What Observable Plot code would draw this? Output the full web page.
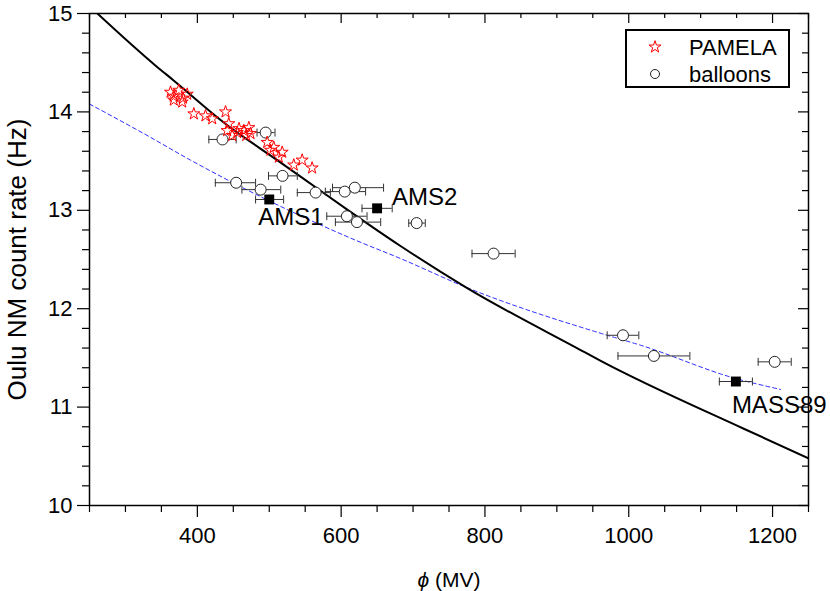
<!DOCTYPE html>
<html><head><meta charset="utf-8">
<script src="https://cdn.jsdelivr.net/npm/d3@7"></script>
<script src="https://cdn.jsdelivr.net/npm/@observablehq/plot@0.6"></script>
<style>
body{margin:0;background:#fff;font-family:"Liberation Sans",Arial,sans-serif;}
#wrap{position:relative;width:830px;height:591px;}
#legend{position:absolute;left:625px;top:29px;}
</style></head><body><div id="wrap"></div>
<script>
// PAMELA points
const pamelaPhi  = [362.7,374.2,385.9,367.2,378.9,367,380,395.1,411.3,420.7,439.2,443.7,441.5,455.4,464.6,471.6,473.9,448.5,458,468,497.1,506.3,501.7,518,513.3,534.1,545.8,559.6];
const pamelaRate = [14.20,14.22,14.18,14.12,14.10,14.16,14.14,13.98,13.96,13.93,14.00,13.88,13.81,13.79,13.81,13.84,13.78,13.76,13.83,13.76,13.69,13.64,13.61,13.59,13.54,13.46,13.51,13.43];
// balloon points with phi error bars
const balloonPhi  = [495,435,454,488,518.5,564.5,605,619,608,622,705,812,992,1035,1203];
const balloonRate = [13.79,13.72,13.28,13.21,13.35,13.18,13.19,13.23,12.94,12.88,12.87,12.56,11.73,11.52,11.46];
const balloonLo   = [483,416,425,462,499,539,578,588,580,592,694,782,970,985,1180];
const balloonHi   = [508,454,481,516,539,585,634,659,636,655,717,842,1014,1085,1226];
// labelled measurements
const amsNames = ["AMS1","AMS2","MASS89"];
const amsPhi   = [500,650,1149];
const amsRate  = [13.11,13.02,11.26];
const amsLo    = [481,629,1126];
const amsHi    = [520,671,1172];
// solid model curve
const curvePhi  = [261,342,367,439,511,548,606,682,773,933,961,1160,1250];
const curveRate = [15.0,14.47,14.32,13.88,13.51,13.32,13.02,12.64,12.22,11.58,11.47,10.78,10.48];
// dashed fit curve
const dashPhi  = [250,325.5,390.5,622,682.5,773,970,1016,1149,1211];
const dashRate = [14.08,13.78,13.51,12.69,12.51,12.22,11.73,11.63,11.29,11.18];
// ticks
const xMajor = [400,600,800,1000,1200];
const xMinor = [250,300,350,450,500,550,650,700,750,850,900,950,1050,1100,1150,1250];
const yMajor = [10,11,12,13,14,15];
const yMinor = [10.2,10.4,10.6,10.8,11.2,11.4,11.6,11.8,12.2,12.4,12.6,12.8,13.2,13.4,13.6,13.8,14.2,14.4,14.6,14.8];

const pamela = pamelaPhi.map((p,i)=>({phi:p, rate:pamelaRate[i]}));
const balloons = balloonPhi.map((p,i)=>({phi:p, rate:balloonRate[i], lo:balloonLo[i], hi:balloonHi[i]}));
const ams = amsNames.map((n,i)=>({name:n, phi:amsPhi[i], rate:amsRate[i], lo:amsLo[i], hi:amsHi[i]}));
const curve = curvePhi.map((p,i)=>({phi:p, rate:curveRate[i]}));
const dash = dashPhi.map((p,i)=>({phi:p, rate:dashRate[i]}));

const vbar = {draw(ctx, size){ const r = Math.sqrt(size/Math.PI); ctx.moveTo(0,-r); ctx.lineTo(0,r); }};

const W=830,H=591,ML=89,MR=22,MT=13,MB=86;
const PW=W-ML-MR, PH=H-MT-MB;

const chart = Plot.plot({
  width:W, height:H, marginLeft:ML, marginRight:MR, marginTop:MT, marginBottom:MB,
  style:{fontFamily:"'Liberation Sans', Arial, sans-serif", background:"white", color:"black", overflow:"visible"},
  x:{domain:[250,1250]},
  y:{domain:[10,15]},
  marks:[
    Plot.axisX({ticks:xMinor, tickSize:7, tickFormat:()=>"", label:null, strokeWidth:1.2}),
    Plot.axisX({ticks:xMajor, tickSize:12, tickPadding:10, fontSize:22, label:null, strokeWidth:1.2, tickFormat:d=>String(d)}),
    Plot.axisY({ticks:yMinor, tickSize:7, tickFormat:()=>"", label:null, strokeWidth:1.2}),
    Plot.axisY({ticks:yMajor, tickSize:12, tickPadding:5, fontSize:22, label:null, strokeWidth:1.2, tickFormat:d=>String(d)}),
    Plot.tickX(xMinor, {x:d=>d, insetBottom:PH-5, stroke:"black", strokeWidth:1.2}),
    Plot.tickX(xMajor, {x:d=>d, insetBottom:PH-10, stroke:"black", strokeWidth:1.2}),
    Plot.tickY(yMinor, {y:d=>d, insetLeft:PW-6, stroke:"black", strokeWidth:1.2}),
    Plot.tickY(yMajor, {y:d=>d, insetLeft:PW-10, stroke:"black", strokeWidth:1.2}),
    Plot.line(dash, {x:"phi", y:"rate", curve:"monotone-x", stroke:"#2f2fff", strokeWidth:1, strokeDasharray:"4,3"}),
    Plot.line(curve, {x:"phi", y:"rate", curve:"monotone-x", stroke:"black", strokeWidth:2, clip:true}),
    Plot.ruleY(balloons, {y:"rate", x1:"lo", x2:"hi", stroke:"#333", strokeWidth:1}),
    Plot.dot(balloons, {x:"lo", y:"rate", symbol:vbar, r:4, stroke:"#333", fill:"none", strokeWidth:1}),
    Plot.dot(balloons, {x:"hi", y:"rate", symbol:vbar, r:4, stroke:"#333", fill:"none", strokeWidth:1}),
    Plot.ruleY(ams, {y:"rate", x1:"lo", x2:"hi", stroke:"#333", strokeWidth:1}),
    Plot.dot(ams, {x:"lo", y:"rate", symbol:vbar, r:4, stroke:"#333", fill:"none", strokeWidth:1}),
    Plot.dot(ams, {x:"hi", y:"rate", symbol:vbar, r:4, stroke:"#333", fill:"none", strokeWidth:1}),
    Plot.dot(balloons, {x:"phi", y:"rate", r:5.5, stroke:"#222", fill:"white", strokeWidth:1}),
    Plot.dot(ams, {x:"phi", y:"rate", symbol:"square", r:5.6, fill:"black", stroke:"none"}),
    Plot.dot(pamela, {x:"phi", y:"rate", symbol:"star", r:3.8, stroke:"red", fill:"none", strokeWidth:1}),
    Plot.text(ams, {filter:d=>d.name==="AMS1", x:"phi", y:"rate", text:"name", dx:-11, dy:18, textAnchor:"start", lineAnchor:"middle", fontSize:24, fill:"black"}),
    Plot.text(ams, {filter:d=>d.name==="AMS2", x:"phi", y:"rate", text:"name", dx:15, dy:-11, textAnchor:"start", lineAnchor:"middle", fontSize:24, fill:"black"}),
    Plot.text(ams, {filter:d=>d.name==="MASS89", x:"phi", y:"rate", text:"name", dx:-4, dy:24, textAnchor:"start", lineAnchor:"middle", fontSize:24, fill:"black"}),
    Plot.text(["Oulu NM count rate (Hz)"], {text:d=>d, frameAnchor:"left", rotate:-90, dx:-72, lineAnchor:"middle", textAnchor:"middle", fontSize:26, fill:"black"}),
    Plot.text(["ϕ (MV)"], {text:d=>d, frameAnchor:"bottom", dy:75, lineAnchor:"middle", textAnchor:"middle", fontSize:21, fill:"black"}),
    Plot.frame({stroke:"black", strokeWidth:1.5})
  ]
});

// italic phi in the x label
d3.select(chart).selectAll("text").filter(function(){ return this.textContent === "ϕ (MV)"; })
  .each(function(){
    const t = d3.select(this);
    t.text(null);
    t.append("tspan").attr("font-style","italic").text("ϕ");
    t.append("tspan").text(" (MV)");
  });

const wrap = document.getElementById("wrap");
wrap.appendChild(chart);

// legend overlay
const lg = d3.select(wrap).append("svg").attr("id","legend").attr("width",166).attr("height",60);
lg.append("rect").attr("x",1).attr("y",1).attr("width",163).attr("height",57).attr("fill","white").attr("stroke","black").attr("stroke-width",2);
lg.append("path").attr("d", d3.symbol(d3.symbolStar, Math.PI*3.8*3.8)()).attr("transform","translate(30,18)").attr("fill","none").attr("stroke","red").attr("stroke-width",1);
lg.append("circle").attr("cx",30).attr("cy",45).attr("r",4.5).attr("fill","white").attr("stroke","#222").attr("stroke-width",1);
lg.append("text").attr("x",64).attr("y",18).attr("dy","0.35em").attr("font-size",22).attr("font-family","'Liberation Sans', Arial, sans-serif").text("PAMELA");
lg.append("text").attr("x",64).attr("y",45).attr("dy","0.35em").attr("font-size",22).attr("font-family","'Liberation Sans', Arial, sans-serif").text("balloons");
</script>
</body></html>
